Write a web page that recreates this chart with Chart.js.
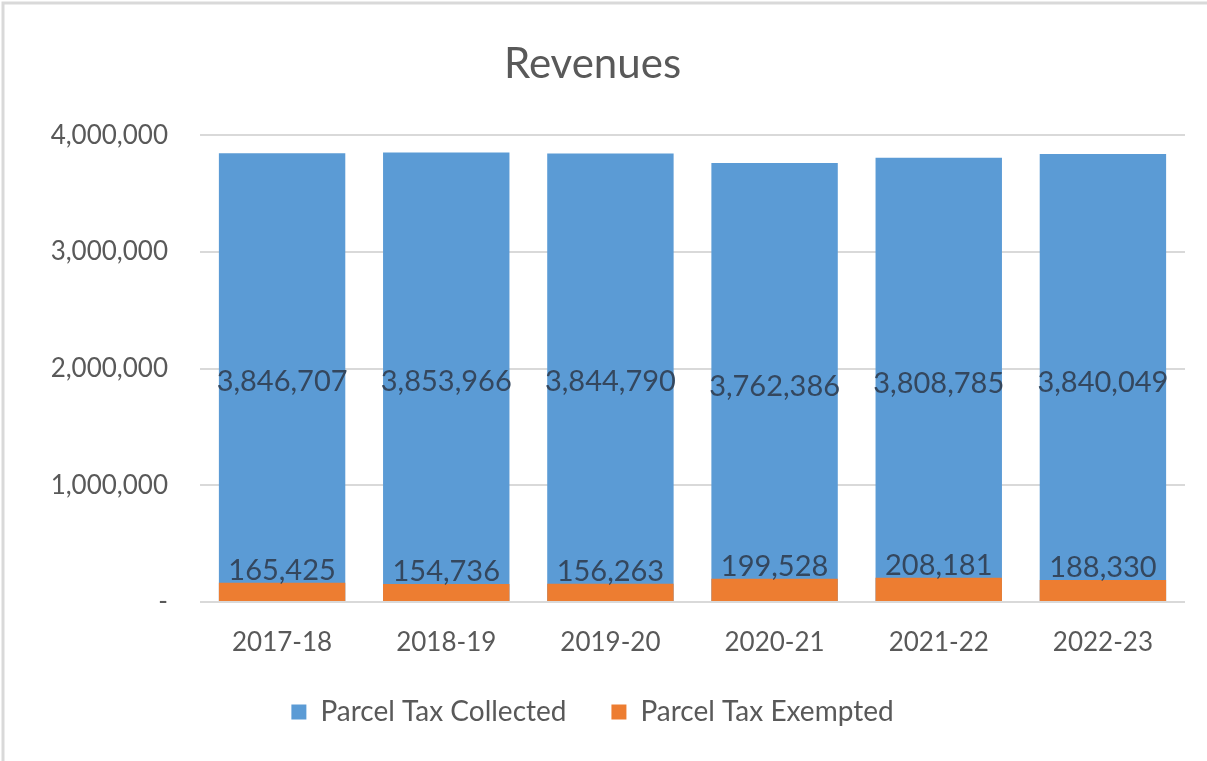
<!DOCTYPE html>
<html>
<head>
<meta charset="utf-8">
<title>Revenues</title>
<script src="https://cdn.jsdelivr.net/npm/chart.js@4/dist/chart.umd.min.js"></script>
<style>
    html, body { margin: 0; padding: 0; background: #ffffff; }
    #wrap { width: 1207px; height: 761px; position: relative; }
</style>
</head>
<body>
<div id="wrap"><canvas id="revenueChart"></canvas></div>
<script>
const years = ['2017-18', '2018-19', '2019-20', '2020-21', '2021-22', '2022-23'];
const collected = [3846707, 3853966, 3844790, 3762386, 3808785, 3840049];
const exempted = [165425, 154736, 156263, 199528, 208181, 188330];
const yTicks = [0, 1000000, 2000000, 3000000, 4000000];

const FONT = 'Lato, "Open Sans", sans-serif';

function fmt(v) {
    return v === 0 ? '-' : v.toLocaleString('en-US');
}

// frame + background
const framePlugin = {
    id: 'frame',
    beforeDraw(chart) {
        const ctx = chart.ctx;
        ctx.save();
        ctx.fillStyle = '#ffffff';
        ctx.fillRect(0, 0, chart.width, chart.height);
        ctx.strokeStyle = '#d9d9d9';
        ctx.lineWidth = 3;
        ctx.beginPath();
        ctx.moveTo(3, chart.height);
        ctx.lineTo(3, 3);
        ctx.lineTo(chart.width, 3);
        ctx.stroke();
        ctx.restore();
    }
};

// value labels: center for collected, just above bar for exempted
const barLabels = {
    id: 'barLabels',
    afterDatasetsDraw(chart) {
        const ctx = chart.ctx;
        ctx.save();
        ctx.font = '29px ' + FONT;
        ctx.fillStyle = '#34475e';
        ctx.textAlign = 'center';
        ctx.textBaseline = 'alphabetic';
        chart.data.datasets.forEach((ds, i) => {
            const meta = chart.getDatasetMeta(i);
            meta.data.forEach((bar, j) => {
                const text = ds.data[j].toLocaleString('en-US');
                if (ds.labelPos === 'center') {
                    ctx.fillText(text, bar.x, (bar.y + bar.base) / 2 + 14);
                } else {
                    ctx.fillText(text, bar.x, bar.y - 3);
                }
            });
        });
        ctx.restore();
    }
};

new Chart(document.getElementById('revenueChart'), {
    type: 'bar',
    data: {
        labels: years,
        datasets: [
            {
                label: 'Parcel Tax Collected',
                data: collected,
                backgroundColor: '#5b9bd5',
                order: 1,
                labelPos: 'center'
            },
            {
                label: 'Parcel Tax Exempted',
                data: exempted,
                backgroundColor: '#ed7d31',
                order: 0,
                labelPos: 'above'
            }
        ]
    },
    options: {
        responsive: true,
        maintainAspectRatio: false,
        animation: false,
        layout: { padding: { left: 0, right: 22, top: 0, bottom: 25 } },
        datasets: {
            bar: { categoryPercentage: 1, barPercentage: 0.77 }
        },
        plugins: {
            title: {
                display: true,
                text: 'Revenues',
                color: '#595959',
                font: { family: FONT, size: 42, weight: 'normal' },
                padding: { top: 39, bottom: 46 }
            },
            legend: {
                position: 'bottom',
                labels: {
                    color: '#595959',
                    font: { family: FONT, size: 28 },
                    boxWidth: 15,
                    boxHeight: 15,
                    padding: 45,
                    sort: (a, b) => a.datasetIndex - b.datasetIndex
                }
            },
            tooltip: { enabled: false }
        },
        scales: {
            x: {
                stacked: true,
                grid: { display: false, drawTicks: false },
                border: { display: false },
                ticks: {
                    color: '#595959',
                    font: { family: FONT, size: 26 },
                    padding: 25
                },
                afterFit(scale) { scale.height = 51; }
            },
            y: {
                stacked: false,
                min: 0,
                max: 4000000,
                afterBuildTicks(scale) {
                    scale.ticks = yTicks.map(v => ({ value: v }));
                },
                grid: { color: '#d9d9d9', lineWidth: 2, drawTicks: false },
                border: { display: false },
                ticks: {
                    color: '#595959',
                    font: { family: FONT, size: 26 },
                    padding: 32,
                    callback: v => fmt(v)
                },
                afterFit(scale) { scale.width = 200; }
            }
        }
    },
    plugins: [framePlugin, barLabels]
});
</script>
</body>
</html>
